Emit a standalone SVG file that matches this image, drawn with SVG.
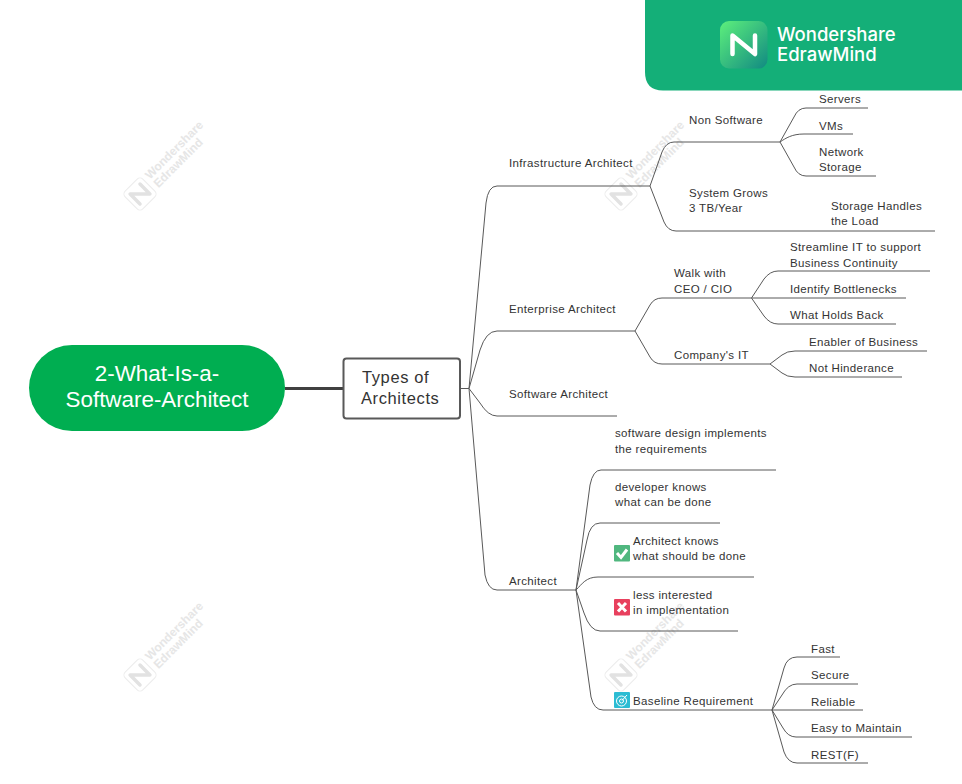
<svg xmlns="http://www.w3.org/2000/svg" width="962" height="784" viewBox="0 0 962 784">
<style>
.t{font-family:"Liberation Sans",Arial,sans-serif;font-size:11.5px;fill:#333;letter-spacing:.36px}
.c{fill:none;stroke:#595959;stroke-width:1}
.wm text{font-family:"Liberation Sans",Arial,sans-serif;font-size:12px;fill:#e6e6e6;font-weight:bold}
.logo{font-family:Inter,"Liberation Sans",sans-serif;font-size:18.5px;font-weight:500;fill:#fff}
.r{font-family:"Liberation Sans",Arial,sans-serif;font-size:22.4px;fill:#fff}
.b{font-family:"Liberation Sans",Arial,sans-serif;font-size:16.5px;fill:#333;letter-spacing:.6px}
</style>
<defs>
<linearGradient id="lg" x1="0" y1="0" x2="1" y2="1"><stop offset="0" stop-color="#5df07c"/><stop offset="1" stop-color="#118a82"/></linearGradient>
<g id="wm" class="wm">
<g transform="rotate(-45)">
<rect x="-12.500" y="-12.500" width="25" height="25" rx="4" fill="#fff" stroke="#ececec"/>
<path d="M-7 7V-7L7 7V-7" fill="none" stroke="#e2e2e2" stroke-width="3.500" stroke-linejoin="round" stroke-linecap="round"/>
<text x="17" y="-3">Wondershare</text><text x="17" y="9">EdrawMind</text></g>
</g>
</defs>
<rect width="962" height="784" fill="#fff"/>
<g id="watermarks">
<use href="#wm" x="140" y="194"/><use href="#wm" x="621" y="194"/><use href="#wm" x="140" y="675"/><use href="#wm" x="621" y="675"/>
</g>
<g id="banner">
<path d="M645 0H962V90.500H663Q645 90.500 645 72Z" fill="#14af78"/>
<rect x="720" y="21" width="47.500" height="47.500" rx="9" fill="url(#lg)"/>
<path d="M732.500 54V35.500L755 54V35.500" fill="none" stroke="#fff" stroke-width="4.500" stroke-linejoin="round" stroke-linecap="round"/>
<text class="logo" x="777" y="41">Wondershare</text>
<text class="logo" x="777" y="61">EdrawMind</text>
</g>
<g id="connectors">
<path d="M285 388.500H343" fill="none" stroke="#404040" stroke-width="3"/>
<path class="c" d="M460 388.500H469"/>
<path class="c" d="M469 388.500L486 203Q488 186 497 186H650"/>
<path class="c" d="M469 388.500L480 350Q486 331 497 331H635"/>
<path class="c" d="M469 388.500L480 403Q488 416 497 416H617"/>
<path class="c" d="M469 388.500L485 575Q488 590 497 590H576"/>
<path class="c" d="M650 186L662 152Q666 142 674 142H780"/>
<path class="c" d="M650 186L664 222Q668 231 676 231H935"/>
<path class="c" d="M780 142L794 117Q798 108 806 108H868"/>
<path class="c" d="M780 142C786 138 792 134 804 134H853"/>
<path class="c" d="M780 142L794 167Q798 176 806 176H876"/>
<path class="c" d="M635 331L650 305Q654 298 662 298H751.500"/>
<path class="c" d="M635 331L650 357Q654 364 662 364H770"/>
<path class="c" d="M751.500 298L764 279Q770 271 778 271H930"/>
<path class="c" d="M751.500 298H906"/>
<path class="c" d="M751.500 298L764 316Q770 324 778 324H896"/>
<path class="c" d="M770 364L782 355Q787 351 795 351H927"/>
<path class="c" d="M770 364L782 373Q787 377 795 377H902"/>
<path class="c" d="M576 590L590 485Q593 470 601 470H776"/>
<path class="c" d="M576 590L587 540Q590 523 600 523H720"/>
<path class="c" d="M576 590C582 584 586 577 598 577H754"/>
<path class="c" d="M576 590L584 613Q590 631 600 631H738"/>
<path class="c" d="M576 590L591 697Q594 710 603 710H772"/>
<path class="c" d="M772 710L784 668Q787 657 797 657H840"/>
<path class="c" d="M772 710L782 695Q788 684 797 684H858"/>
<path class="c" d="M772 710H863"/>
<path class="c" d="M772 710L783 728Q788 737 796 737H912"/>
<path class="c" d="M772 710L784 752Q788 763 797 763H868"/>
</g>
<g id="root"><rect x="29" y="345" width="256" height="86" rx="43" fill="#00ae51"/>
<text class="r" x="157" y="381" text-anchor="middle">2-What-Is-a-</text>
<text class="r" x="157" y="407" text-anchor="middle">Software-Architect</text></g>
<g id="types"><rect x="343.500" y="358.500" width="116.500" height="60" rx="3" fill="#fff" stroke="#595959" stroke-width="2"/>
<text class="b" x="362" y="383">Types of</text>
<text class="b" x="361" y="404">Architects</text></g>
<g id="n-infra"><text class="t" x="509" y="167">Infrastructure Architect</text></g>
<g id="n-nonsw"><text class="t" x="689" y="124">Non Software</text></g>
<g id="n-servers"><text class="t" x="819" y="103">Servers</text></g>
<g id="n-vms"><text class="t" x="819" y="130">VMs</text></g>
<g id="n-net"><text class="t" x="819" y="156">Network</text><text class="t" x="819" y="171">Storage</text></g>
<g id="n-grows"><text class="t" x="689" y="197">System Grows</text><text class="t" x="689" y="212">3 TB/Year</text></g>
<g id="n-handles"><text class="t" x="831" y="210">Storage Handles</text><text class="t" x="831" y="225">the Load</text></g>
<g id="n-ent"><text class="t" x="509" y="313">Enterprise Architect</text></g>
<g id="n-walk"><text class="t" x="674" y="277">Walk with</text><text class="t" x="674" y="293">CEO / CIO</text></g>
<g id="n-stream"><text class="t" x="790" y="251">Streamline IT to support</text><text class="t" x="790" y="267">Business Continuity</text></g>
<g id="n-ident"><text class="t" x="790" y="293">Identify Bottlenecks</text></g>
<g id="n-holds"><text class="t" x="790" y="319">What Holds Back</text></g>
<g id="n-company"><text class="t" x="674" y="359">Company's IT</text></g>
<g id="n-enabler"><text class="t" x="809" y="346">Enabler of Business</text></g>
<g id="n-hinder"><text class="t" x="809" y="372">Not Hinderance</text></g>
<g id="n-sw"><text class="t" x="509" y="398">Software Architect</text></g>
<g id="n-arch"><text class="t" x="509" y="585">Architect</text></g>
<g id="n-design"><text class="t" x="615" y="437">software design implements</text><text class="t" x="615" y="453">the requirements</text></g>
<g id="n-dev"><text class="t" x="615" y="491">developer knows</text><text class="t" x="615" y="506">what can be done</text></g>
<g id="n-knows"><rect x="614" y="545" width="16" height="16.500" rx="1" fill="#50b77f"/><path d="M617 553L621 557.500L627 549.500" fill="none" stroke="#fff" stroke-width="3"/><text class="t" x="633" y="545">Architect knows</text><text class="t" x="633" y="560">what should be done</text></g>
<g id="n-less"><rect x="614" y="599" width="16" height="16.500" rx="1" fill="#e8405e"/><path d="M618 603L626 611.500M626 603L618 611.500" fill="none" stroke="#fff" stroke-width="3"/><text class="t" x="633" y="599">less interested</text><text class="t" x="633" y="614">in implementation</text></g>
<g id="n-base"><rect x="614" y="692" width="16" height="16" rx="1" fill="#2cbcd3"/><circle cx="621.500" cy="701" r="5" fill="none" stroke="#fff"/><circle cx="621.500" cy="701" r="2" fill="none" stroke="#fff"/><path d="M622 700.500L627 695" stroke="#fff"/><text class="t" x="633" y="705">Baseline Requirement</text></g>
<g id="n-fast"><text class="t" x="811" y="653">Fast</text></g>
<g id="n-secure"><text class="t" x="811" y="679">Secure</text></g>
<g id="n-reliable"><text class="t" x="811" y="706">Reliable</text></g>
<g id="n-easy"><text class="t" x="811" y="732">Easy to Maintain</text></g>
<g id="n-rest"><text class="t" x="811" y="759">REST(F)</text></g>
</svg>
